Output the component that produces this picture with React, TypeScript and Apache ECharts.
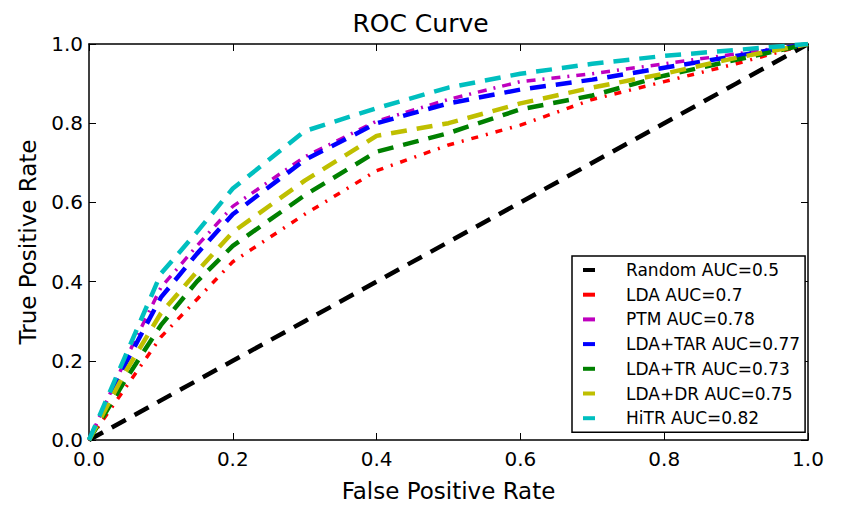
import React, { useEffect, useRef } from "react";
import * as echarts from "echarts";

const FONT = "DejaVu Sans";

const fpr = [0, 0.05, 0.1, 0.15, 0.2, 0.3, 0.4, 0.5, 0.6, 0.7, 0.8, 0.9, 1];
const randomTpr = [0, 0.05, 0.1, 0.15, 0.2, 0.3, 0.4, 0.5, 0.6, 0.7, 0.8, 0.9, 1];
const ldaTpr = [0, 0.13, 0.26, 0.355, 0.45, 0.57, 0.68, 0.745, 0.795, 0.86, 0.905, 0.95, 1];
const ptmTpr = [0, 0.2, 0.385, 0.49, 0.59, 0.715, 0.805, 0.86, 0.905, 0.925, 0.95, 0.975, 1];
const ldaTarTpr = [0, 0.19, 0.36, 0.47, 0.57, 0.707, 0.8, 0.85, 0.885, 0.91, 0.94, 0.97, 1];
const ldaTrTpr = [0, 0.15, 0.29, 0.4, 0.49, 0.618, 0.728, 0.775, 0.835, 0.87, 0.92, 0.96, 1];
const ldaDrTpr = [0, 0.17, 0.32, 0.425, 0.525, 0.655, 0.768, 0.8, 0.85, 0.89, 0.925, 0.965, 1];
const hitrTpr = [0, 0.21, 0.42, 0.525, 0.635, 0.78, 0.838, 0.89, 0.925, 0.95, 0.97, 0.985, 1];

const seriesNames = [
  "Random AUC=0.5",
  "LDA AUC=0.7",
  "PTM AUC=0.78",
  "LDA+TAR AUC=0.77",
  "LDA+TR AUC=0.73",
  "LDA+DR AUC=0.75",
  "HiTR AUC=0.82",
];
const seriesValues = [randomTpr, ldaTpr, ptmTpr, ldaTarTpr, ldaTrTpr, ldaDrTpr, hitrTpr];
const seriesColors = ["#000000", "#ff0000", "#bf00bf", "#0000ff", "#008000", "#bfbf00", "#00bfbf"];
const seriesDash: number[][] = [
  [16, 10],
  [7, 8, 2, 8],
  [9, 7, 2, 7],
  [16, 10],
  [16, 10],
  [16, 10],
  [16, 10],
];

export default function App() {
  const ref = useRef<HTMLDivElement>(null);
  useEffect(() => {
    document.body.style.margin = "0";
    if (!ref.current) return;
    const chart = echarts.init(ref.current, null, { renderer: "svg" });
    const axisCommon = {
      type: "value",
      min: 0,
      max: 1,
      interval: 0.2,
      splitLine: { show: false },
      axisLine: { show: true, onZero: false, lineStyle: { color: "#000", width: 1.5 } },
      axisTick: { show: true, inside: true, length: 7, lineStyle: { color: "#000", width: 1 } },
    };
    chart.setOption({
      animation: false,
      backgroundColor: "#ffffff",
      title: {
        text: "ROC Curve",
        left: "center",
        top: 11,
        padding: 0,
        textStyle: { fontFamily: FONT, fontSize: 25, fontWeight: "normal", color: "#000" },
      },
      grid: { left: 89, right: 33, top: 44, bottom: 79 },
      legend: {
        orient: "vertical",
        left: 572,
        top: 256,
        padding: [4, 5, 4, 11],
        itemGap: 4.7,
        itemWidth: 12,
        itemHeight: 4,
        icon: "rect",
        borderColor: "#000",
        borderWidth: 1.5,
        borderRadius: 0,
        backgroundColor: "#fff",
        data: seriesNames,
        textStyle: {
          fontFamily: FONT,
          fontSize: 17,
          lineHeight: 20,
          color: "#000",
          padding: [0, 0, 0, 26],
        },
      },
      xAxis: [
        {
          ...axisCommon,
          position: "bottom",
          name: "False Positive Rate",
          nameLocation: "middle",
          nameGap: 39,
          nameTextStyle: { fontFamily: FONT, fontSize: 23, color: "#000" },
          axisLabel: {
            margin: 9,
            fontFamily: FONT,
            fontSize: 20,
            color: "#000",
            formatter: (v: number) => v.toFixed(1),
          },
        },
        {
          ...axisCommon,
          position: "top",
          axisLabel: { show: false },
        },
      ],
      yAxis: [
        {
          ...axisCommon,
          position: "left",
          name: "True Positive Rate",
          nameLocation: "middle",
          nameGap: 50,
          nameTextStyle: { fontFamily: FONT, fontSize: 23, color: "#000" },
          axisLabel: {
            margin: 6,
            fontFamily: FONT,
            fontSize: 20,
            color: "#000",
            formatter: (v: number) => v.toFixed(1),
          },
        },
        {
          ...axisCommon,
          position: "right",
          axisLabel: { show: false },
        },
      ],
      series: seriesNames.map((name, i) => ({
        name,
        type: "line",
        xAxisIndex: 0,
        yAxisIndex: 0,
        symbol: "none",
        data: fpr.map((x, j) => [x, seriesValues[i][j]]),
        lineStyle: {
          color: seriesColors[i],
          width: i === 1 || i === 2 ? 3.5 : 4.5,
          type: seriesDash[i],
          cap: "butt",
        },
        itemStyle: { color: seriesColors[i] },
        z: 2 + i,
      })),
    });
    return () => chart.dispose();
  }, []);
  return <div ref={ref} style={{ width: 841, height: 519 }} />;
}
